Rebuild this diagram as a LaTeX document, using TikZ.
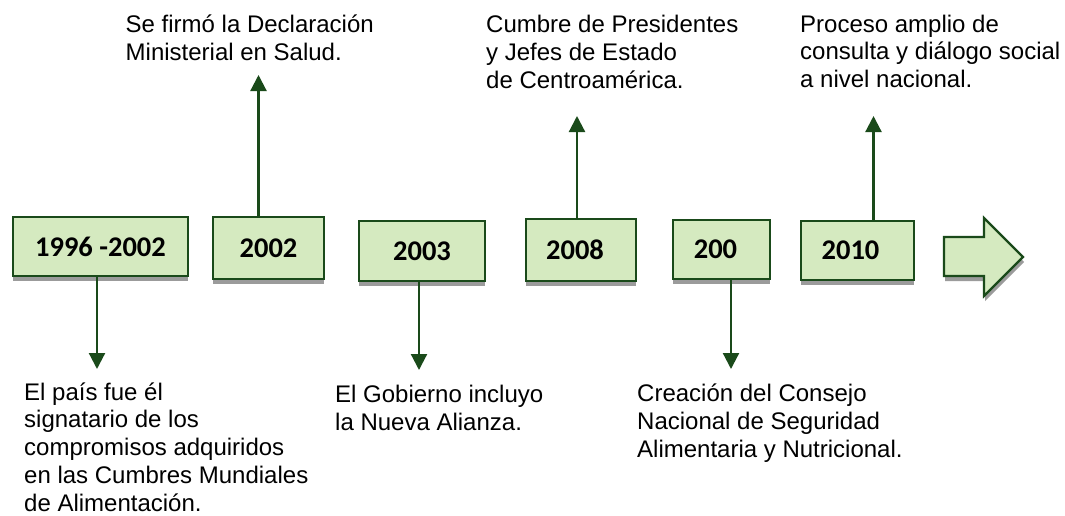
\documentclass[tikz,border=0pt]{standalone}
\usepackage{fontspec}
\setmainfont{Liberation Sans}
\newfontfamily\yearfont{Carlito}
\usepackage{tikz}
\usetikzlibrary{positioning,shadows,arrows.meta}
\definecolor{boxgreen}{HTML}{D5EAC0}
\definecolor{darkgreen}{HTML}{1A4A1A}
\definecolor{shadowgray}{HTML}{9B9B9B}
\tikzset{
    yearbox/.style={draw=darkgreen, line width=2.2pt, fill=boxgreen, inner sep=0pt,
        font=\yearfont\bfseries\fontsize{28.5}{34}\selectfont,
        drop shadow={shadow xshift=0pt, shadow yshift=-5pt, fill=shadowgray, opacity=1}},
    event/.style={anchor=base west, align=left, inner sep=0pt,
        font=\fontsize{24}{27.7}\selectfont},
    link/.style={draw=darkgreen, line width=2.2pt, -{Triangle[width=16pt,length=16pt]}},
    bigarrow/.style={draw=darkgreen, line width=2.2pt, fill=boxgreen, line join=miter,
        drop shadow={shadow xshift=1pt, shadow yshift=-5pt, fill=shadowgray, opacity=1}}
}

\begin{document}
\begin{tikzpicture}[x=1pt, y=-1pt]
        \useasboundingbox (0,0) rectangle (1065,515);
        \coordinate (T1) at (97,369);
        \coordinate (T2) at (258.5,75);
        \coordinate (T3) at (419,370);
        \coordinate (T4) at (577,116);
        \coordinate (T5) at (731,369);
        \coordinate (T6) at (873.5,116);
        \node[yearbox, minimum width=175pt, minimum height=59pt] (Y1) at (100.5,246.5) {1996 -2002};
        \node[yearbox, minimum width=111pt, minimum height=62pt] (Y2) at (268.5,248) {2002};
        \node[yearbox, minimum width=126pt, minimum height=60pt] (Y3) at (422,251) {2003};
        \node[yearbox, minimum width=110pt, minimum height=62pt] (Y4) at (581,250) {\hspace*{-12pt}2008};
        \node[yearbox, minimum width=97pt, minimum height=59pt] (Y5) at (721.5,249.5) {\hspace*{-12pt}200};
        \node[yearbox, minimum width=113pt, minimum height=59pt] (Y6) at (857.5,250.5) {\hspace*{-14pt}2010};
        \path[bigarrow] (944,237) -- (984,237) -- (984,218) -- (1023,257) -- (984,296)
            -- (984,276) -- (944,276) -- cycle;
        \node[event] (E1) at (24,511) {El país fue él\\signatario de los\\compromisos adquiridos\\en las Cumbres Mundiales\\de Alimentación.};
        \node[event] (E2) at (125.5,60) {Se firmó la Declaración\\Ministerial en Salud.};
        \node[event] (E3) at (335,430) {El Gobierno incluyo\\la Nueva Alianza.};
        \node[event] (E4) at (486,88) {Cumbre de Presidentes\\y Jefes de Estado\\de Centroamérica.};
        \node[event] (E5) at (637,457) {Creación del Consejo\\Nacional de Seguridad\\Alimentaria y Nutricional.};
        \node[event] (E6) at (800,87.5) {Proceso amplio de\\consulta y diálogo social\\a nivel nacional.};
        \draw[link] (Y1.south -| T1) -- (T1);
        \draw[link] (Y2.north -| T2) -- (T2);
        \draw[link] (Y3.south -| T3) -- (T3);
        \draw[link] (Y4.north -| T4) -- (T4);
        \draw[link] (Y5.south -| T5) -- (T5);
        \draw[link] (Y6.north -| T6) -- (T6);
    \end{tikzpicture}
\end{document}
